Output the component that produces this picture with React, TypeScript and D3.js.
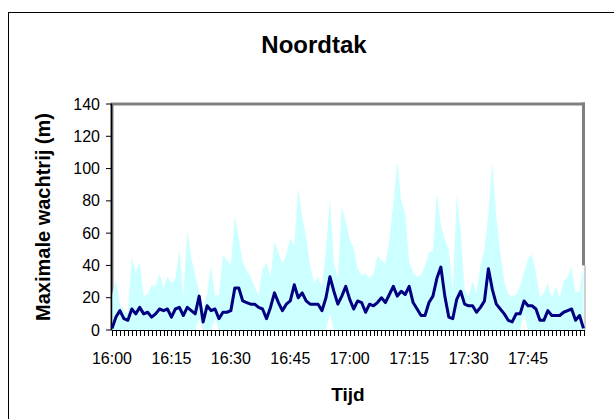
import React from "react";
import * as d3 from "d3";

// Per-minute queue lengths (m), 16:00 – 17:59
const maxQueue = [
  22, 31, 16, 12, 10, 45, 36, 42, 21, 22,
  28, 27, 35, 26, 33, 29, 32, 50, 21, 62,
  45, 34, 24, 14, 22, 40, 21, 22, 46, 44,
  40, 71, 57, 42, 37, 33, 27, 21, 38, 42,
  33, 55, 48, 41, 47, 57, 52, 88, 70, 58,
  40, 29, 33, 27, 50, 81, 42, 32, 77, 67,
  56, 51, 38, 34, 35, 32, 35, 46, 43, 41,
  56, 78, 105, 80, 72, 42, 36, 33, 34, 40,
  48, 49, 85, 65, 56, 50, 24, 84, 61, 25,
  21, 30, 23, 40, 50, 72, 104, 70, 48, 30,
  22, 21, 22, 27, 36, 44, 47, 35, 20, 23,
  29, 20, 27, 20, 30, 33, 39, 23, 24, 40,
];

const minQueue = [
  0, 0, 0, 0, 0, 0, 0, 0, 0, 0,
  0, 0, 0, 0, 0, 0, 0, 0, 0, 0,
  0, 0, 7, 0, 0, 0, 7, 0, 0, 0,
  0, 0, 0, 0, 0, 0, 0, 0, 0, 0,
  0, 0, 0, 0, 0, 0, 0, 0, 0, 0,
  0, 0, 0, 0, 0, 10, 0, 0, 0, 0,
  0, 0, 0, 0, 0, 0, 0, 0, 0, 0,
  0, 0, 0, 0, 0, 0, 0, 0, 0, 0,
  0, 0, 0, 0, 0, 0, 0, 0, 0, 0,
  0, 0, 0, 0, 0, 0, 0, 0, 0, 0,
  0, 0, 0, 0, 10, 0, 0, 0, 0, 0,
  0, 0, 0, 0, 0, 0, 0, 0, 0, 0,
];

const meanQueue = [
  1, 8, 12, 7, 6, 13, 10, 14, 10, 11,
  8, 10, 13, 12, 13, 8, 13, 14, 9, 14,
  12, 10, 21, 5, 15, 12, 13, 7, 11, 11,
  12, 26, 26, 18, 17, 16, 16, 14, 13, 7,
  14, 23, 17, 12, 16, 18, 28, 20, 23, 18,
  16, 16, 16, 12, 20, 33, 24, 16, 21, 27,
  19, 13, 18, 17, 11, 16, 15, 17, 20, 17,
  22, 27, 21, 24, 22, 27, 17, 13, 9, 9,
  17, 21, 32, 39, 21, 8, 7, 19, 24, 16,
  15, 15, 11, 14, 18, 38, 25, 16, 13, 10,
  6, 5, 10, 10, 18, 15, 15, 13, 6, 6,
  12, 9, 9, 9, 11, 12, 13, 6, 9, 1,
];

const timeLabels = ["16:00", "16:15", "16:30", "16:45", "17:00", "17:15", "17:30", "17:45"];
const labelStep = 15;
const yTicks = [0, 20, 40, 60, 80, 100, 120, 140];

const FONT = "'Liberation Sans', Arial, Helvetica, sans-serif";

export default function App() {
  const W = 614;
  const H = 419;
  const left = 112;
  const right = 583.5;
  const top = 104;
  const bottom = 330;

  const n = maxQueue.length;
  const x = d3.scaleLinear().domain([0, n - 1]).range([left, right]);
  const y = d3.scaleLinear().domain([0, 140]).range([bottom, top]);

  const area = d3
    .area<number>()
    .x((_, i) => x(i))
    .y0(y(0))
    .y1((d) => y(d));
  const line = d3
    .line<number>()
    .x((_, i) => x(i))
    .y((d) => y(d));

  const lastMax = maxQueue[n - 1];

  return (
    <svg
      width={W}
      height={H}
      style={{ position: "absolute", left: 0, top: 0, background: "#fff" }}
      fontFamily={FONT}
    >
      {/* chart frame */}
      <rect x={8.5} y={12.5} width={700} height={500} fill="#fff" stroke="#000" strokeWidth={1} />

      <text x={314} y={53} textAnchor="middle" fontSize={24} fontWeight="bold">
        Noordtak
      </text>

      {/* plot area border */}
      <line x1={left - 1.5} x2={right + 1.5} y1={top} y2={top} stroke="#808080" strokeWidth={3} />
      <line x1={right} x2={right} y1={top - 1.5} y2={y(lastMax)} stroke="#808080" strokeWidth={3} />
      <line x1={right + 1.5} x2={right + 1.5} y1={y(lastMax)} y2={bottom} stroke="#a0a0a0" strokeWidth={1} />
      <line x1={left} x2={left} y1={top} y2={bottom} stroke="#808080" strokeWidth={3} />

      {/* max / min band */}
      <path d={area(maxQueue) ?? ""} fill="#CCFFFF" />
      <path d={area(minQueue) ?? ""} fill="#FFFFFF" />

      {/* axes */}
      <line x1={left - 0.5} x2={left - 0.5} y1={top} y2={bottom} stroke="#000" strokeWidth={1.5} />
      <line x1={left} x2={right + 1} y1={bottom + 0.5} y2={bottom + 0.5} stroke="#000" strokeWidth={1} />
      {yTicks.map((t) => (
        <g key={t}>
          <line x1={left - 6} x2={left} y1={y(t)} y2={y(t)} stroke="#000" strokeWidth={1} />
          <text x={100} y={y(t)} dy="0.35em" textAnchor="end" fontSize={16}>
            {t}
          </text>
        </g>
      ))}
      {maxQueue.map((_, i) => (
        <line
          key={i}
          x1={Math.round(x(i)) + 0.5}
          x2={Math.round(x(i)) + 0.5}
          y1={bottom}
          y2={bottom + 6}
          stroke="#000"
          strokeWidth={1}
        />
      ))}
      {timeLabels.map((lab, k) => (
        <text key={lab} x={x(k * labelStep)} y={364} textAnchor="middle" fontSize={16}>
          {lab}
        </text>
      ))}

      {/* mean queue */}
      <path
        d={line(meanQueue) ?? ""}
        fill="none"
        stroke="#000080"
        strokeWidth={3}
        strokeLinejoin="round"
      />

      <text x={348} y={401} textAnchor="middle" fontSize={19} fontWeight="bold">
        Tijd
      </text>
      <text
        transform={`translate(50, 217) rotate(-90)`}
        textAnchor="middle"
        fontSize={20}
        fontWeight="bold"
      >
        Maximale wachtrij (m)
      </text>
    </svg>
  );
}
